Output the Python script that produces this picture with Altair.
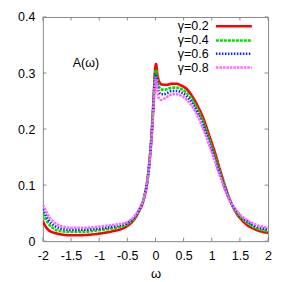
import altair as alt
import pandas as pd

omega = [-2, -1.95, -1.9, -1.8, -1.7, -1.6, -1.5, -1.25, -1, -0.75, -0.6, -0.5, -0.4, -0.3,
         -0.2, -0.15, -0.1, -0.06, -0.03, -0.01, 0.01, 0.03, 0.06, 0.1, 0.15, 0.2, 0.3, 0.37,
         0.45, 0.55, 0.65, 0.75, 0.85, 0.95, 1.05, 1.15, 1.25, 1.35, 1.45, 1.55, 1.65, 1.75,
         1.85, 2]

a_g02 = [0.036, 0.026, 0.020, 0.015, 0.0125, 0.011, 0.0105, 0.011, 0.0135, 0.018, 0.022, 0.027,
         0.036, 0.052, 0.078, 0.104, 0.150, 0.205, 0.262, 0.302, 0.316, 0.300, 0.286, 0.280,
         0.279, 0.279, 0.281, 0.281, 0.278, 0.272, 0.259, 0.241, 0.219, 0.190, 0.160, 0.126,
         0.094, 0.067, 0.048, 0.036, 0.027, 0.022, 0.018, 0.015]
a_g04 = [0.049, 0.039, 0.031, 0.022, 0.018, 0.017, 0.0165, 0.017, 0.0195, 0.023, 0.026, 0.030,
         0.038, 0.053, 0.079, 0.104, 0.149, 0.203, 0.258, 0.294, 0.306, 0.292, 0.276, 0.271,
         0.270, 0.271, 0.274, 0.274, 0.272, 0.265, 0.253, 0.235, 0.212, 0.184, 0.154, 0.122,
         0.092, 0.067, 0.050, 0.039, 0.031, 0.025, 0.021, 0.018]
a_g06 = [0.057, 0.047, 0.038, 0.028, 0.023, 0.021, 0.020, 0.0205, 0.0225, 0.026, 0.029, 0.032,
         0.040, 0.054, 0.079, 0.103, 0.147, 0.200, 0.253, 0.287, 0.298, 0.283, 0.266, 0.262,
         0.262, 0.264, 0.268, 0.268, 0.266, 0.259, 0.247, 0.229, 0.206, 0.178, 0.149, 0.118,
         0.090, 0.067, 0.052, 0.041, 0.034, 0.028, 0.024, 0.021]
a_g08 = [0.065, 0.055, 0.045, 0.034, 0.028, 0.025, 0.024, 0.024, 0.026, 0.029, 0.031, 0.034,
         0.042, 0.055, 0.079, 0.102, 0.145, 0.197, 0.248, 0.280, 0.291, 0.272, 0.255, 0.252,
         0.254, 0.257, 0.262, 0.262, 0.260, 0.253, 0.241, 0.223, 0.200, 0.173, 0.144, 0.115,
         0.088, 0.067, 0.053, 0.043, 0.036, 0.031, 0.027, 0.024]

series_names = ["γ=0.2", "γ=0.4", "γ=0.6", "γ=0.8"]
series_values = [a_g02, a_g04, a_g06, a_g08]
colors = ["#ff0000", "#00e000", "#1020ff", "#ff66ff"]
dashes = [[1, 0], [3, 1], [1.5, 1.5], [2.5, 1]]

x_ticks = [-2, -1.5, -1, -0.5, 0, 0.5, 1, 1.5, 2]
y_ticks = [0, 0.1, 0.2, 0.3, 0.4]

legend_y = [0.3836, 0.3582, 0.3346, 0.3097]
legend_x1, legend_x2, legend_text_x = 1.074, 1.711, 0.943
label_text = "A(ω)"
label_x, label_y = -1.469, 0.3173

FONT = "Liberation Sans"
X_DOM = [-2, 2]
Y_DOM = [0, 0.4]

rows = []
for name, vals in zip(series_names, series_values):
    for w, a in zip(omega, vals):
        rows.append({"series": name, "omega": w, "A": a})
df = pd.DataFrame(rows)

color_scale = alt.Scale(domain=series_names, range=colors)
dash_scale = alt.Scale(domain=series_names, range=dashes)

xs = alt.Scale(domain=X_DOM, nice=False, zero=False)
ys = alt.Scale(domain=Y_DOM, nice=False)

x_axis = alt.Axis(values=x_ticks, labelExpr="datum.value + ''", title="ω",
                  labelPadding=8, titlePadding=6)
y_axis = alt.Axis(values=y_ticks, labelExpr="datum.value + ''", title=None, labelPadding=8)

lines = alt.Chart(df).mark_line(interpolate="monotone", strokeWidth=2.6, clip=True).encode(
    x=alt.X("omega:Q", scale=xs, axis=x_axis),
    y=alt.Y("A:Q", scale=ys, axis=y_axis),
    color=alt.Color("series:N", scale=color_scale, legend=None),
    strokeDash=alt.StrokeDash("series:N", scale=dash_scale, legend=None),
)

# inward ticks on all four sides
tx = 3.5 * 4 / 226
ty = 3.5 * 0.4 / 225
tick_rows_x = []
for t in x_ticks:
    tick_rows_x.append({"x": t, "y": 0, "y2": ty})
    tick_rows_x.append({"x": t, "y": 0.4, "y2": 0.4 - ty})
tick_rows_y = []
for t in y_ticks:
    tick_rows_y.append({"y": t, "x": -2, "x2": -2 + tx})
    tick_rows_y.append({"y": t, "x": 2, "x2": 2 - tx})

ticks_x = alt.Chart(pd.DataFrame(tick_rows_x)).mark_rule(color="#888888", strokeWidth=1).encode(
    x=alt.X("x:Q", scale=xs, axis=x_axis), y=alt.Y("y:Q", scale=ys, axis=y_axis), y2="y2:Q")
ticks_y = alt.Chart(pd.DataFrame(tick_rows_y)).mark_rule(color="#888888", strokeWidth=1).encode(
    x=alt.X("x:Q", scale=xs, axis=x_axis), x2="x2:Q", y=alt.Y("y:Q", scale=ys, axis=y_axis))

leg_df = pd.DataFrame({"series": series_names, "y": legend_y,
                       "x1": [legend_x1] * 4, "x2": [legend_x2] * 4,
                       "tx": [legend_text_x] * 4})
leg_lines = alt.Chart(leg_df).mark_rule(strokeWidth=2.5).encode(
    x=alt.X("x1:Q", scale=xs, axis=x_axis), x2="x2:Q", y=alt.Y("y:Q", scale=ys, axis=y_axis),
    color=alt.Color("series:N", scale=color_scale, legend=None),
    strokeDash=alt.StrokeDash("series:N", scale=dash_scale, legend=None),
)
leg_text = alt.Chart(leg_df).mark_text(align="right", baseline="middle", fontSize=12.5,
                                       font=FONT, color="black").encode(
    x=alt.X("tx:Q", scale=xs, axis=x_axis), y=alt.Y("y:Q", scale=ys, axis=y_axis),
    text="series:N")

lbl = alt.Chart(pd.DataFrame({"x": [label_x], "y": [label_y], "t": [label_text]})).mark_text(
    align="left", baseline="middle", fontSize=12.5, font=FONT, color="black").encode(
    x=alt.X("x:Q", scale=xs, axis=x_axis), y=alt.Y("y:Q", scale=ys, axis=y_axis), text="t:N")

chart = alt.layer(lines, ticks_x, ticks_y, leg_lines, leg_text, lbl).properties(
    width=226, height=225,
    autosize=alt.AutoSizeParams(type="none"),
    padding={"left": 35, "top": 8.5, "right": 20, "bottom": 50},
    background="white",
).configure_view(stroke="#888888", strokeWidth=1).configure_axis(
    ticks=False, domain=False, grid=False, labelOverlap=False, labelFlush=False,
    labelFontSize=12.5, titleFontSize=13, titleFontWeight="normal",
    labelFont=FONT, titleFont=FONT, labelColor="black", titleColor="black",
)

chart.save("out.html", embed_options={"renderer": "svg", "actions": False})
